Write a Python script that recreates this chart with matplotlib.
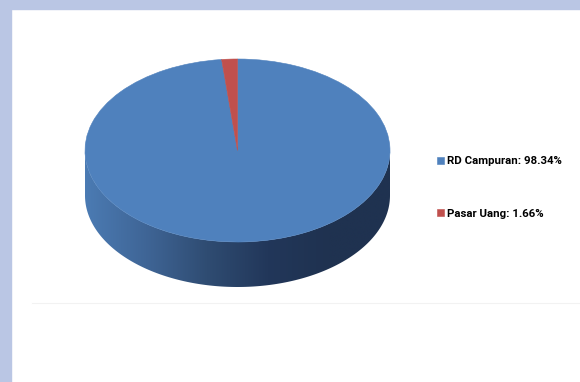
import matplotlib.pyplot as plt
import numpy as np
from matplotlib.colors import LinearSegmentedColormap
from matplotlib.patches import Polygon, Rectangle

labels = ['RD Campuran', 'Pasar Uang']
values = [98.34, 1.66]
colors = ['#4F81BD', '#C0504D']

W, H = 580, 382
cx, cy = 237.5, 150.5      # pixel centre of top ellipse
a, b = 152.5, 91.5         # semi axes in pixels
depth = 45 / b             # side height in data units

fig = plt.figure(figsize=(W / 100, H / 100), dpi=100)
fig.patch.set_facecolor('white')

# light frame at top and left
fig.patches.append(Rectangle((0, 1 - 9 / H), 1, 9 / H, transform=fig.transFigure,
                             color='#BAC6E4', zorder=0))
fig.patches.append(Rectangle((0, 0), 11 / W, 1, transform=fig.transFigure,
                             color='#BAC6E4', zorder=0))

ax = fig.add_axes([0, 0, 1, 1])
wedges, _ = ax.pie(values, colors=colors, startangle=90, counterclock=False,
                   radius=1, center=(0, 0),
                   wedgeprops=dict(linewidth=0.4, zorder=3))
for w, c in zip(wedges, colors):
    w.set_edgecolor(c)

# front side of the cylinder, horizontal shade
t = np.linspace(np.pi, 2 * np.pi, 200)
top = np.column_stack([np.cos(t), np.sin(t)])
bot = np.column_stack([np.cos(t[::-1]), np.sin(t[::-1]) - depth])
side = Polygon(np.vstack([top, bot]), closed=True, facecolor='none',
               edgecolor='none', zorder=2)
ax.add_patch(side)
shade = LinearSegmentedColormap.from_list(
    'side', ['#4B7BB3', '#3F6596', '#2F4C72', '#22375A', '#1F3250', '#1F3250'])
grad = np.linspace(0, 1, 256).reshape(1, -1)
im = ax.imshow(grad, cmap=shade, extent=[-1, 1, -1 - depth, 0],
               aspect='auto', zorder=2, interpolation='bilinear')
im.set_clip_path(side)

ax.set_aspect('auto')
ax.set_xlim(-cx / a, (W - cx) / a)
ax.set_ylim((cy - H) / b, cy / b)
ax.axis('off')

# faint plot-area line
fig.add_artist(plt.Line2D([32 / W, 1], [1 - 303 / H, 1 - 303 / H],
                          transform=fig.transFigure, color='#F2F2F2', lw=0.8))

leg_labels = [f'{l}: {v:.2f}%' for l, v in zip(labels, values)]
leg = fig.legend(wedges, leg_labels, loc='upper left',
                 bbox_to_anchor=(427 / W, 1 - 146 / H), frameon=False,
                 handlelength=0.55, handleheight=0.55, handletextpad=0.3,
                 labelspacing=3.75,
                 prop=dict(family=['Roboto', 'DejaVu Sans'],
                           size=8.2, weight='bold'))

plt.savefig('out.png', dpi=100, facecolor='white')
